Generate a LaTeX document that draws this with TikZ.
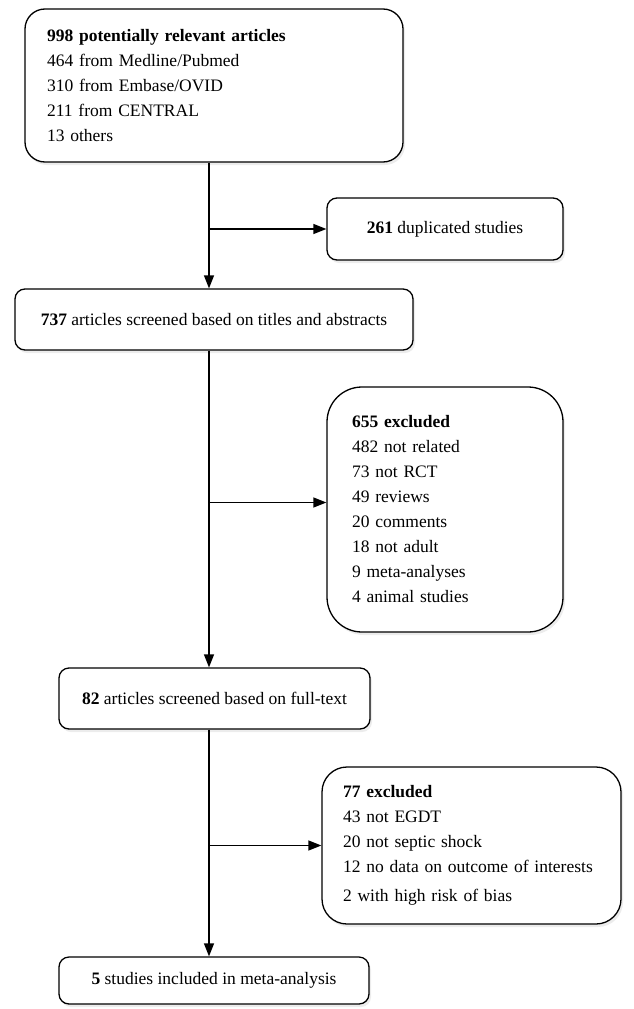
\documentclass[tikz,border=0pt]{standalone}
\usepackage{fontspec}
\setmainfont{Liberation Serif}
\usetikzlibrary{arrows.meta,shadows}

\begin{document}
\begin{tikzpicture}[x=1pt, y=-1pt,
  box/.style={draw, line width=1.3pt, fill=white, rounded corners=10pt, inner sep=0pt,
    drop shadow={opacity=0.15, shadow xshift=2pt, shadow yshift=-3pt},
    font=\fontsize{17.5}{25}\selectfont, align=center},
  listbox/.style={box, align=left},
  flow/.style={-{Triangle[length=13pt,width=10pt]}, line width=1.3pt}]
\useasboundingbox (0,0) rectangle (634,1009);

% Boxes of the flow, top to bottom
\node[listbox, minimum width=378, minimum height=153, rounded corners=20pt, text width=334, inner xsep=22pt] (src) at (214,85.5)
  {\textbf{998 potentially relevant articles}\\464 from Medline/Pubmed\\310 from Embase/OVID\\211 from CENTRAL\\13 others};
\node[box, minimum width=236, minimum height=62] (dup) at (445,229) {\textbf{261} duplicated studies};
\node[box, minimum width=398, minimum height=61] (title) at (214,319.5) {\textbf{737} articles screened based on titles and abstracts};
\node[listbox, minimum width=236, minimum height=245, rounded corners=35pt, text width=186, inner xsep=25pt] (excl1) at (445,509.5)
  {\textbf{655 excluded}\\482 not related\\73 not RCT\\49 reviews\\20 comments\\18 not adult\\9 meta-analyses\\4 animal studies};
\node[box, minimum width=311, minimum height=61] (full) at (214.5,698.5) {\textbf{82} articles screened based on full-text};
\node[listbox, minimum width=299, minimum height=157, rounded corners=25pt, text width=257, inner xsep=21pt] (excl2) at (471.5,845.5)
  {\textbf{77 excluded}\\43 not EGDT\\20 not septic shock\\12 no data on outcome of interests\\[4pt]2 with high risk of bias};
\node[box, minimum width=310, minimum height=47] (incl) at (214,980.5) {\textbf{5} studies included in meta-analysis};

% Main line
\coordinate (spine) at (209,0);
\draw[flow] (src.south -| spine) -- (title.north -| spine);
\draw[flow] (title.south -| spine) -- (full.north -| spine);
\draw[flow] (full.south -| spine) -- (incl.north -| spine);

% Exclusions
\coordinate (cut1) at ([yshift=7pt]excl1.west);
\draw[flow] (spine |- dup.west) -- (dup.west);
\draw[flow] (spine |- cut1) -- (cut1);
\draw[flow] (spine |- excl2.west) -- (excl2.west);
\end{tikzpicture}
\end{document}
